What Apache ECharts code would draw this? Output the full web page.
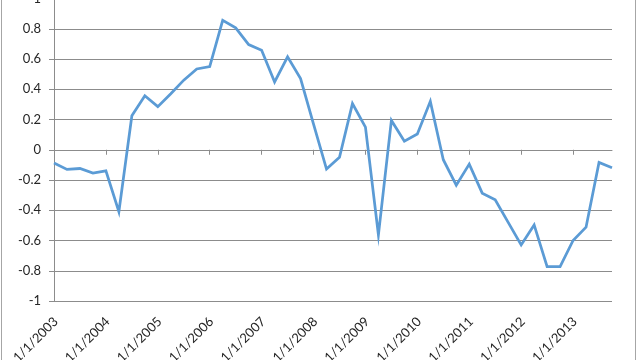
<!DOCTYPE html>
<html>
<head>
<meta charset="utf-8">
<script src="https://cdn.jsdelivr.net/npm/echarts@6/dist/echarts.min.js"></script>
<style>
  html, body { margin: 0; padding: 0; background: #ffffff; }
  #chart { width: 640px; height: 360px; }
</style>
</head>
<body>
<div id="chart"></div>
<script>
// Quarterly categories 2003 Q1 .. 2013 Q4
const years = [2003, 2004, 2005, 2006, 2007, 2008, 2009, 2010, 2011, 2012, 2013];
const quarterMonths = [1, 4, 7, 10];
const categories = [];
years.forEach(y => quarterMonths.forEach(m => categories.push(m + '/1/' + y)));

const values = [
  -0.088, -0.13, -0.124, -0.154,
  -0.139, -0.41, 0.225, 0.357,
  0.285, 0.37, 0.46, 0.534,
  0.55, 0.856, 0.806, 0.695,
  0.658, 0.448, 0.614, 0.47,
  0.17, -0.128, -0.05, 0.305,
  0.15, -0.563, 0.194, 0.057,
  0.104, 0.32, -0.066, -0.234,
  -0.095, -0.287, -0.331, -0.48,
  -0.629, -0.497, -0.773, -0.773,
  -0.6, -0.512, -0.084, -0.119
];

const yTicks = { min: -1, max: 1, interval: 0.2 };

const font = 'Lato, "Open Sans", sans-serif';
const textColor = '#262626';
const gridColor = '#8c8c8c';

const chart = echarts.init(document.getElementById('chart'), null, { renderer: 'canvas' });
chart.setOption({
  animation: false,
  backgroundColor: '#ffffff',
  graphic: [{
    type: 'rect',
    shape: { x: 1.5, y: -5, width: 634, height: 375 },
    style: { fill: 'none', stroke: '#a6a6a6', lineWidth: 1 },
    silent: true
  }],
  grid: { left: 54, right: 28, top: -1.5, bottom: 59, containLabel: false, outerBoundsMode: 'none' },
  xAxis: [{
    type: 'category',
    data: categories,
    boundaryGap: false,
    position: 'bottom',
    axisLine: { show: false, onZero: false },
    axisTick: { show: false },
    splitLine: { show: false },
    axisLabel: {
      interval: 3,
      rotate: 45,
      margin: 11,
      align: 'right',
      verticalAlign: 'top',
      padding: [0, 4, 0, 0],
      color: textColor,
      fontFamily: font,
      fontSize: 13,
      hideOverlap: false
    }
  }, {
    type: 'category',
    data: categories,
    boundaryGap: false,
    position: 'bottom',
    axisLine: { show: true, onZero: true, lineStyle: { color: gridColor, width: 1 } },
    axisTick: { show: true, interval: 3, length: 5, lineStyle: { color: gridColor } },
    axisLabel: { show: false },
    splitLine: { show: false }
  }],
  yAxis: {
    type: 'value',
    min: yTicks.min,
    max: yTicks.max,
    interval: yTicks.interval,
    axisLine: { show: true, onZero: false, lineStyle: { color: gridColor, width: 1 } },
    axisTick: { show: true, length: 5, lineStyle: { color: gridColor } },
    splitLine: { show: true, lineStyle: { color: gridColor, width: 1 } },
    axisLabel: {
      margin: 13,
      color: textColor,
      fontFamily: font,
      fontSize: 13
    }
  },
  series: [{
    type: 'line',
    data: values,
    showSymbol: false,
    symbol: 'none',
    smooth: false,
    lineStyle: { color: '#5b9bd5', width: 2.75, join: 'miter' },
    itemStyle: { color: '#5b9bd5' }
  }]
});
</script>
</body>
</html>
